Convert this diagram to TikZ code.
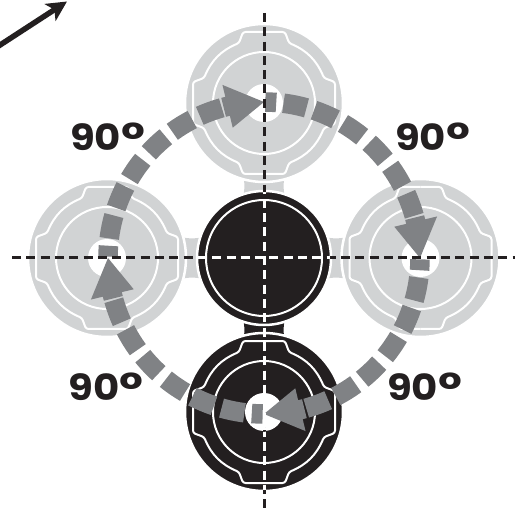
\documentclass[tikz,border=0pt]{standalone}
\usepackage{fontspec}
\setmainfont{Poppins}[FakeStretch=1.12]
\usetikzlibrary{arrows.meta, positioning}
\definecolor{LGr}{RGB}{209,211,212}
\definecolor{MG}{RGB}{128,130,133}
\definecolor{DG}{RGB}{35,31,32}
\newcommand{\degsign}{\raisebox{-4.8pt}{\fontsize{46}{46}\selectfont °}}
\begin{document}
\begin{tikzpicture}[
  x=1pt, y=1pt,
  disc/.style={circle, draw=white, line width=2.5pt, fill=#1, inner sep=0pt, minimum size=158pt},
  hubdisc/.style={circle, draw=white, line width=2.5pt, fill=DG, inner sep=0pt, minimum size=134pt},
  ring/.style={draw=white, line width=2pt},
  seg/.style={draw=MG, line width=19.5pt},
  axis/.style={line width=3pt, dash pattern=on 9pt off 5.3pt},
  deg/.style={font=\fontsize{36}{36}\selectfont\bfseries, text=DG, inner sep=0pt}
]
\useasboundingbox (0,0) rectangle (519,509);

% tabs between the hub and the discs
\foreach \q/\col in {0/LGr, 90/LGr, 180/DG, 270/LGr}{
  \fill[\col, shift={(264,251)}, rotate=\q] (-21,60) .. controls (-19,72) .. (-21,84)
    -- (21,84) .. controls (19,72) .. (21,60) -- cycle;
}

\node[disc=LGr] (top)    at (264,406)   {};
\node[disc=LGr] (right)  at (420.5,251) {};
\node[disc=LGr] (left)   at (107,251)   {};
\node[disc=DG]  (bottom) at (264,97)    {};
\node[hubdisc]  (hub)    at (264,251)   {};
\draw[ring] (hub.center) circle (58);

% rings and lobes of each disc
\foreach \nm in {top, right, left, bottom}{
  \draw[ring] (\nm.center) circle (51);
  \fill[white] (\nm.center) circle (19);
  \foreach \q in {0,90,180,270}{
    \draw[ring, rounded corners=2.5pt, shift={(\nm.center)}, rotate=\q]
      (0,71) -- (21,71) -- (25,60) to[bend left=22] (60,25) -- (71,21) -- (71,0);
  }
}

% quarter turns
\foreach \q in {0,90,180,270}{
  \begin{scope}[shift={(hub.center)}, rotate=-\q]
    \draw[seg] (89.5:156) arc[start angle=89.5, end angle=85.5, radius=156];
    \foreach \a in {11.5,23,34.7,46.7,58.3,70}{
      \draw[seg] ({90-\a+4.3}:156) arc[start angle=90-\a+4.3, end angle=90-\a-4.3, radius=156];
    }
    \draw[seg] (15:156) arc[start angle=15, end angle=11, radius=156];
    \fill[MG] (0:156) -- (13.5:178) -- (13.5:134) -- cycle;
  \end{scope}
}

% axes
\coordinate (vtop) at (264,496);
\coordinate (vend) at (264,0);
\coordinate (hstart) at (12,251);
\coordinate (hend) at (515,251);
\draw[axis, DG] (vtop) -- (vend);
\draw[axis, DG] (hstart) -- (hend);
\begin{scope}
  \clip (hub.center) circle (66);
  \draw[axis, white] (vtop) -- (vend);
  \draw[axis, white] (hstart) -- (hend);
\end{scope}
\begin{scope}
  \clip (243,80) rectangle (285,185);
  \draw[axis, white] (vtop) -- (vend);
\end{scope}
\begin{scope}[even odd rule]
  \clip (bottom.center) circle (78) (263,96) circle (19);
  \draw[axis, white] (vtop) -- (vend);
\end{scope}

\node[deg] (tl) at (107.5,370) {90\degsign};
\node[deg] (tr) at (432.5,370) {90\degsign};
\node[deg] (bl) at (106,120)   {90\degsign};
\node[deg] (br) at (424.5,120) {90\degsign};

\coordinate (from) at (-3,462);
\coordinate (to)   at (67,507.5);
\draw[DG, line width=5.5pt, -{Stealth[length=20pt, width=20pt, inset=5pt]}] (from) -- (to);
\end{tikzpicture}
\end{document}
